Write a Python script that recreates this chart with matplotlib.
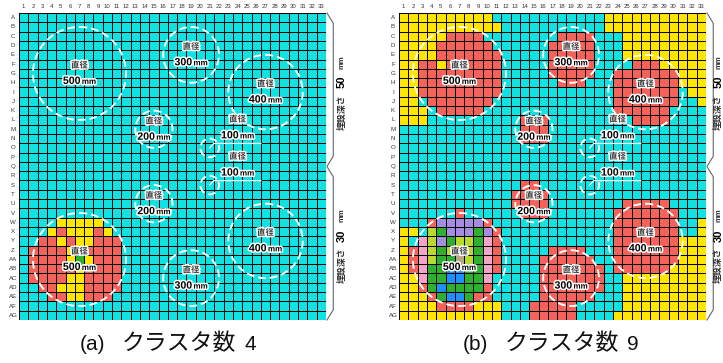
import numpy as np
import matplotlib.pyplot as plt
import matplotlib.patheffects as pe
from matplotlib.colors import ListedColormap
from matplotlib.patches import Circle
from matplotlib.offsetbox import TextArea, HPacker, AnnotationBbox

plt.rcParams['font.family'] = ['Liberation Sans', 'Noto Sans CJK JP']

# grid axes labels
row_labels = [chr(ord('A') + i) for i in range(26)] + ['A' + chr(ord('A') + i) for i in range(7)]
col_labels = [str(i) for i in range(1, 34)]

# cluster codes -> colours
cluster_codes = "crygpklbt"
cluster_colors = ['#12e1e1', '#f4625a', '#ffe500', '#2db02d', '#a48ce0',
                  '#f5a3c6', '#b9d92c', '#1e8fff', '#b9a883']

# cluster map, one run-length string per row (A..AG), e.g. "c4 y5" = 4 cyan, 5 yellow
grid_a = ["c33"] * 22 + [
    "c4 y5 c24",
    "c3 y1 r1 y3 r1 y1 c23",
    "c2 r2 y1 r1 y2 r3 c22",
    "c1 r4 y2 r4 c22",
    "c1 r4 y1 g1 y1 r3 c22",
    "c1 r5 y1 r4 c22",
    "c1 r4 y2 r4 c22",
    "c2 r2 y3 r4 c22",
    "c3 r2 y2 r3 c23",
    "c33",
    "c33",
]

grid_b = [
    "y10 c12 y11",
    "y11 c11 y11",
    "y5 r4 c8 r4 c3 y9",
    "y4 r6 c6 r5 c3 y9",
    "y4 r7 c5 r5 c3 y9",
    "y2 r2 y1 r6 c5 r5 c4 r3 y5",
    "y2 r9 c5 r5 c2 r7 y3",
    "y2 r9 c6 r3 c3 r7 y3",
    "y2 r9 c12 r7 c1 y2",
    "y2 c1 r7 c13 r7 c2 y1",
    "y3 c1 r5 c14 r6 c4",
    "y3 c10 r3 c9 r4 c4",
    "c13 r3 c17",
    "c13 r3 c17",
    "c33",
    "c33",
    "c33",
    "c33",
    "c13 r2 c18",
    "c12 r4 c17",
    "c12 r4 c8 r5 c4",
    "c6 r1 c6 r3 c7 r7 c3",
    "c3 r1 p5 r1 c13 r7 c2 y1",
    "y2 c1 l1 g1 p3 g1 p1 r1 c12 r7 c2 y1",
    "y1 c1 k1 l1 p1 g1 l2 g1 k1 r1 c12 r7 y3",
    "y1 r1 k1 l1 g1 l3 g1 k1 r1 c5 r4 c3 r7 y3",
    "y1 r1 k1 l1 g2 t1 l1 g1 k1 r1 c4 r6 c2 r7 y3",
    "y1 r1 k1 g2 b2 g2 k1 r1 c4 r7 c1 r6 y4",
    "y2 k1 g2 b2 g2 k1 c5 r7 c2 y9",
    "y2 r1 g1 b1 g4 r1 c5 r7 c2 y9",
    "y3 r1 g1 b2 g1 r2 c5 r6 c3 y9",
    "y4 r4 y3 c3 r5 c5 y9",
    "y11 c3 r5 c4 y10",
]

# hole positions (cell units from top-left) and diameters in mm
hole_x = [6.5, 18.5, 26.5, 14.5, 20.5, 20.5, 14.5, 6.5, 18.5, 26.5]
hole_y = [6.5, 4.5, 8.5, 12.5, 14.5, 18.5, 20.5, 26.5, 28.5, 24.5]
hole_d = [500, 300, 400, 200, 100, 100, 200, 500, 300, 400]

depths = [50, 30]
panel_tags = ["(a)", "(b)"]
n_clusters = [4, 9]

halo = [pe.withStroke(linewidth=2.2, foreground='white')]


def expand(runs):
    row = ""
    for tok in runs.split():
        row += tok[0] * int(tok[1:])
    assert len(row) == 33, runs
    return [cluster_codes.index(ch) for ch in row]


def size_label(ax, x, y, d):
    num = TextArea(str(d), textprops=dict(fontsize=7.6, fontweight='bold', color='black',
                                          path_effects=halo))
    unit = TextArea("mm", textprops=dict(fontsize=5.8, fontweight='bold', color='black',
                                         path_effects=halo))
    box = HPacker(children=[num, unit], align='baseline', pad=0, sep=1)
    ab = AnnotationBbox(box, (x, y), frameon=False, box_alignment=(0.5, 0.5), pad=0,
                        annotation_clip=False, zorder=5)
    ax.add_artist(ab)


def caption_box(ax, tag, n, cap_x):
    tag_t = TextArea(tag, textprops=dict(fontsize=15, color='#111111'))
    word_t = TextArea("クラスタ数", textprops=dict(fontsize=16.5, color='#111111',
                                                  fontfamily='Noto Sans CJK JP'))
    num_t = TextArea(str(n), textprops=dict(fontsize=15, color='#111111'))
    inner = HPacker(children=[word_t, num_t], align='baseline', pad=0, sep=6)
    box = HPacker(children=[tag_t, inner], align='baseline', pad=0, sep=12)
    ab = AnnotationBbox(box, (cap_x, 35.5), frameon=False, box_alignment=(0.5, 0.5), pad=0,
                        annotation_clip=False)
    ax.add_artist(ab)


def draw_panel(ax, grid, tag, n, label_x, cap_x):
    cmap = ListedColormap(cluster_colors)
    m = np.array([expand(r) for r in grid])
    ax.pcolormesh(np.arange(34), np.arange(34), m, cmap=cmap, vmin=-0.5,
                  vmax=len(cluster_colors) - 0.5, edgecolors='black', linewidth=0.65)
    ax.set_xlim(0, 33)
    ax.set_ylim(33, 0)
    ax.axis('off')

    for i, lab in enumerate(col_labels):
        ax.text(i + 0.5, -0.65, lab, ha='center', va='center', fontsize=4.3,
                color='#333333', clip_on=False)
    for j, lab in enumerate(row_labels):
        ax.text(-0.65, j + 0.5, lab, ha='center', va='center', fontsize=4.4,
                color='#333333', clip_on=False)

    for cx, cy, d in zip(hole_x, hole_y, hole_d):
        ax.add_patch(Circle((cx, cy), d / 100, fill=False, ec='white', lw=1.4,
                            ls=(0, (4, 2)), clip_on=False, zorder=3))
        if d == 100:
            ax.plot([cx, cx + 0.42, cx + 5.5], [cy, cy - 0.48, cy - 0.48],
                    color='white', lw=0.9, zorder=3)
            ax.text(cx + 3.0, cy - 3.05, "直径", ha='center', va='center', fontsize=6,
                    fontweight='bold', color='#3a3a3a', path_effects=halo, zorder=4)
            size_label(ax, cx + 3.0, cy - 1.35, d)
        else:
            ax.text(cx, cy - 0.85, "直径", ha='center', va='center', fontsize=6,
                    fontweight='bold', color='#3a3a3a', path_effects=halo, zorder=4)
            size_label(ax, cx, cy + 0.8, d)

    # braces for the two burial depths
    bx = [33.1, 33.78, 33.78, 33.1, 33.78, 33.78, 33.1]
    by = [0, 1.1, 15.4, 16.5, 17.6, 31.9, 33]
    ax.plot(bx, by, color='#666666', lw=0.8, clip_on=False)
    for depth, mid in zip(depths, [8.25, 24.75]):
        ax.text(label_x, mid + 2.4, "埋設深さ", rotation=90, ha='center', va='center',
                fontsize=6.4, color='#333333', fontweight='bold', clip_on=False)
        ax.text(label_x, mid - 0.85, str(depth), rotation=90, ha='center', va='center',
                fontsize=8, fontweight='bold', color='black', clip_on=False)
        ax.text(label_x, mid - 3.0, "mm", rotation=90, ha='center', va='center',
                fontsize=5.5, fontweight='bold', color='#333333', clip_on=False)

    caption_box(ax, tag, n, cap_x)


fig = plt.figure(figsize=(7.23, 3.63), dpi=100)
ax_a = fig.add_axes([19 / 723, 43 / 363, 307 / 723, 307 / 363])
ax_b = fig.add_axes([399 / 723, 43 / 363, 307 / 723, 307 / 363])
draw_panel(ax_a, grid_a, panel_tags[0], n_clusters[0], 34.7, 16.0)
draw_panel(ax_b, grid_b, panel_tags[1], n_clusters[1], 34.35, 16.3)

fig.savefig("out.png", dpi=100)
